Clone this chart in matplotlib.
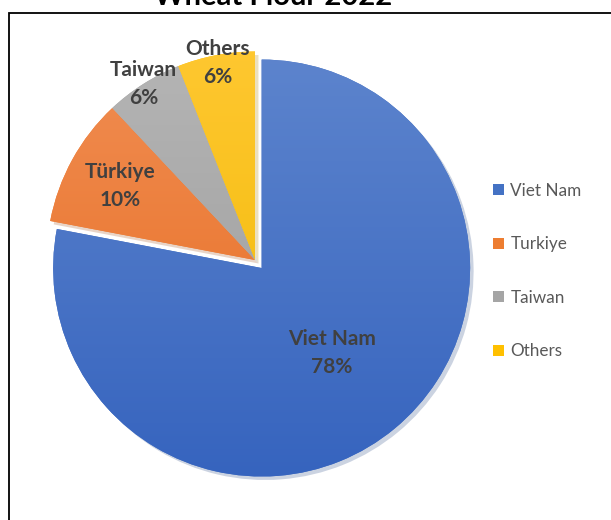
import numpy as np
import matplotlib.pyplot as plt
from matplotlib.patches import Rectangle
from matplotlib.colors import LinearSegmentedColormap

# data
countries = ["Viet Nam", "Türkiye", "Taiwan", "Others"]
legend_names = ["Viet Nam", "Turkiye", "Taiwan", "Others"]
shares = [78, 10, 6, 6]

colors = ["#4472C4", "#ED7D31", "#A5A5A5", "#FFC000"]
top_cols = ["#5F86CE", "#F18F55", "#B6B6B6", "#FFC832"]
bot_cols = ["#3563BE", "#E66A1D", "#999999", "#F0B800"]
label_dist = [0.53, 0.74, 1.0, 0.96]

plt.rcParams['font.family'] = ['Lato', 'DejaVu Sans']

fig = plt.figure(figsize=(6.11, 5.20), dpi=100)
ax = fig.add_axes([9/611, 14/520, 492/611, 492/520])

wedges, _ = ax.pie(shares, colors=colors, startangle=90, counterclock=False,
                   explode=[0.05, 0, 0, 0],
                   shadow={'ox': 0.012, 'oy': -0.012, 'shade': 0.3, 'alpha': 0.25},
                   wedgeprops=dict(linewidth=0))

# soft vertical gradient in every slice, like the office style
for w, c1, c2 in zip(wedges, top_cols, bot_cols):
    cmap = LinearSegmentedColormap.from_list("g", [c2, c1])
    grad = np.linspace(0, 1, 256).reshape(-1, 1)
    im = ax.imshow(grad, cmap=cmap, extent=[-1.1, 1.1, -1.1, 1.1], origin="lower",
                   aspect="auto", zorder=w.get_zorder() + 0.1)
    im.set_clip_path(w)

# labels inside the slices
for w, name, val, d in zip(wedges, countries, shares, label_dist):
    ang = np.deg2rad((w.theta1 + w.theta2) / 2)
    cx, cy = w.center
    ax.text(cx + d * np.cos(ang), cy + d * np.sin(ang), f"{name}\n{val}%",
            ha="center", va="center", fontsize=15, fontweight="bold",
            color="#404040", linespacing=1.5, zorder=10)

ax.set_xlim(-1.18, 1.18)
ax.set_ylim(-1.18, 1.18)
ax.set_aspect("equal")
ax.axis("off")

leg = fig.legend(wedges, legend_names, loc="center left",
                 bbox_to_anchor=(478/611, 1 - 271/520), frameon=False,
                 fontsize=12.3, labelspacing=2.2, handlelength=0.65, handleheight=0.65,
                 handletextpad=0.35, labelcolor="#595959")

fig.text(273/611, 1 - 5/520, "Wheat Flour 2022", ha="center", va="baseline",
         fontsize=21, fontweight="bold", color="black")

# frame around the chart area
fig.patches.append(Rectangle((9/611, -0.1), 1.0, 0.1 + (520 - 13)/520,
                             transform=fig.transFigure, fill=False,
                             edgecolor="black", linewidth=1.3))

fig.savefig("out.png", dpi=100)
